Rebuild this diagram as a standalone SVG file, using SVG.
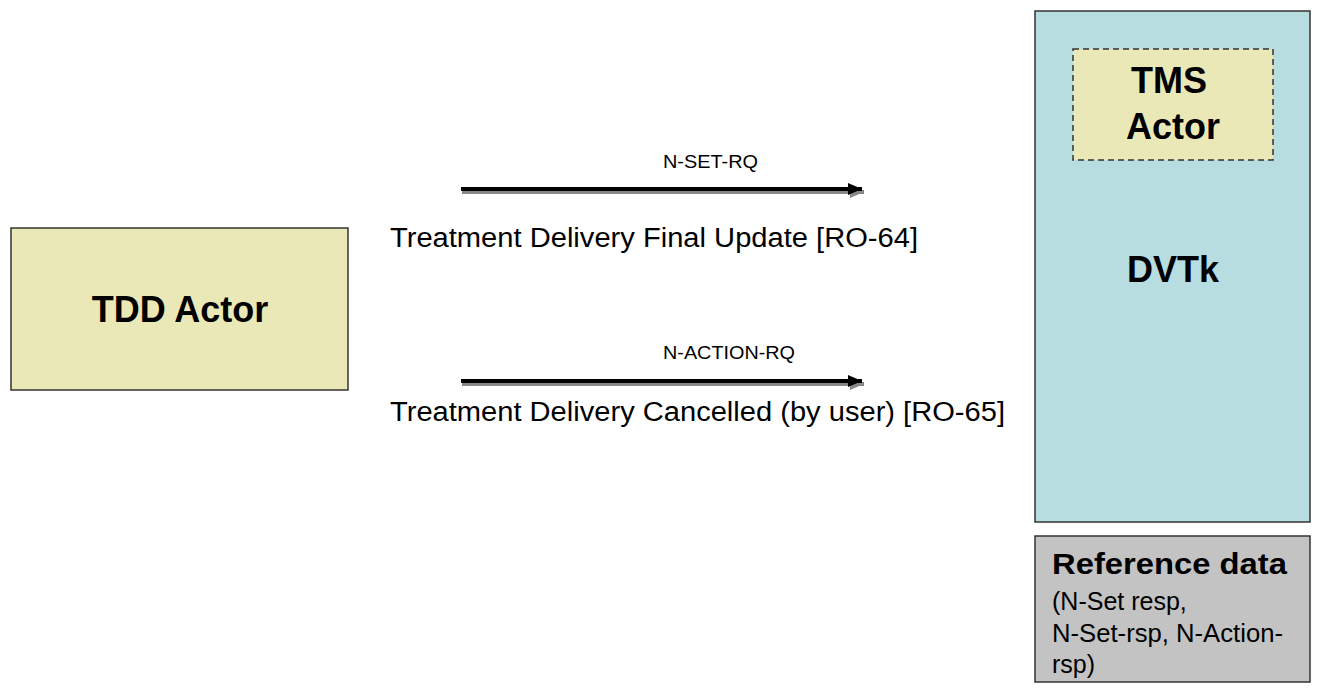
<svg xmlns="http://www.w3.org/2000/svg" width="1320" height="692" viewBox="0 0 1320 692">
<defs>
<style>
.box{stroke:#333;stroke-width:1.5}
.actor{fill:#ebe8b7}
.dvtk{fill:#b7dde0}
.ref{fill:#c3c3c3}
.b{font-family:"Liberation Sans",Arial,sans-serif;font-weight:bold;fill:#000}
.t{font-family:"Liberation Sans",Arial,sans-serif;fill:#000}
.line{stroke:#000;stroke-width:4}
.shadow{stroke:#888;stroke-width:4}
</style>
<marker id="ah" markerUnits="userSpaceOnUse" markerWidth="16" markerHeight="14" refX="14" refY="7" orient="auto">
<path d="M0,1 L14,7 L0,13 z" fill="#000"/>
</marker>
<marker id="ahs" markerUnits="userSpaceOnUse" markerWidth="16" markerHeight="14" refX="14" refY="7" orient="auto">
<path d="M0,1 L14,7 L0,13 z" fill="#888"/>
</marker>
</defs>
<rect width="1320" height="692" fill="#fff"/>
<g id="tdd">
<rect class="box actor" x="11" y="228" width="337" height="162"/>
<text class="b" x="180" y="322" font-size="36" text-anchor="middle">TDD Actor</text>
</g>
<g id="dvtk">
<rect class="box dvtk" x="1035" y="11" width="275" height="511"/>
<text class="b" x="1173" y="282" font-size="36" text-anchor="middle">DVTk</text>
</g>
<g id="tms">
<rect class="actor" x="1073" y="49" width="200" height="111" stroke="#333" stroke-width="1.5" stroke-dasharray="6,4"/>
<text class="b" x="1169" y="93" font-size="36" text-anchor="middle">TMS</text>
<text class="b" x="1173" y="139" font-size="36" text-anchor="middle">Actor</text>
</g>
<g id="refdata">
<rect class="box ref" x="1035" y="536" width="275" height="146"/>
<text class="b" x="1052" y="574" font-size="30" textLength="235" lengthAdjust="spacingAndGlyphs">Reference data</text>
<text class="t" x="1052" y="610" font-size="25">(N-Set resp,</text>
<text class="t" x="1052" y="642" font-size="25" textLength="231" lengthAdjust="spacingAndGlyphs">N-Set-rsp, N-Action-</text>
<text class="t" x="1052" y="673" font-size="25">rsp)</text>
</g>
<g id="connectors">
<line class="shadow" x1="462" y1="192" x2="864" y2="192" marker-end="url(#ahs)"/>
<line class="line" x1="461" y1="189" x2="862" y2="189" marker-end="url(#ah)"/>
<text class="t" x="663" y="168" font-size="18" textLength="95" lengthAdjust="spacingAndGlyphs">N-SET-RQ</text>
<text class="t" x="390" y="247" font-size="27" textLength="528" lengthAdjust="spacingAndGlyphs">Treatment Delivery Final Update [RO-64]</text>
<line class="shadow" x1="462" y1="384" x2="864" y2="384" marker-end="url(#ahs)"/>
<line class="line" x1="461" y1="381" x2="862" y2="381" marker-end="url(#ah)"/>
<text class="t" x="663" y="359" font-size="18" textLength="132" lengthAdjust="spacingAndGlyphs">N-ACTION-RQ</text>
<text class="t" x="390" y="421" font-size="27" textLength="615" lengthAdjust="spacingAndGlyphs">Treatment Delivery Cancelled (by user) [RO-65]</text>
</g>
</svg>
